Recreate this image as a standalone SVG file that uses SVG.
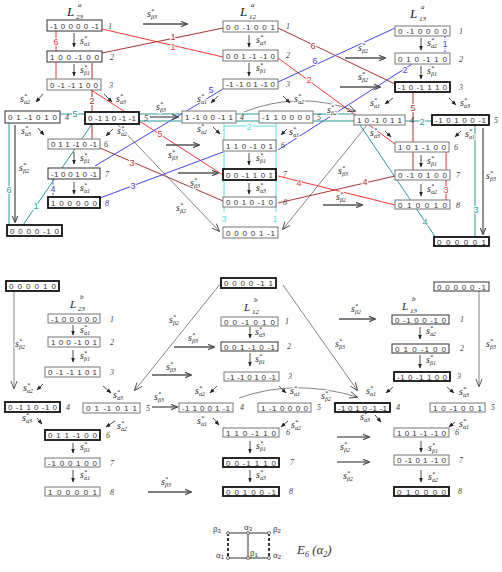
<svg xmlns="http://www.w3.org/2000/svg" width="502" height="572" viewBox="0 0 502 572">
<style>
.bx{fill:#fff;stroke:#777;stroke-width:1}
.bd{fill:#fff;stroke:#333;stroke-width:1}
.bk{fill:#fff;stroke:#111;stroke-width:1.8}
.bt{font-family:"Liberation Sans",Arial,sans-serif;font-size:8px;fill:#333}
.ix{font-family:"Liberation Serif",serif;font-style:italic;font-size:8px;fill:#444}
.lb{font-family:"Liberation Serif",serif;font-style:italic;font-size:10px;fill:#222;paint-order:stroke;stroke:#fff;stroke-width:2px}
.u{font-size:6px}
.tt{font-family:"Liberation Serif",serif;font-style:italic;font-size:13px;fill:#222}
.tb{font-family:"Liberation Serif",serif;font-style:italic;font-size:11px;fill:#222}
.ts{font-family:"Liberation Serif",serif;font-style:italic;font-size:7px;fill:#222}
.cl{font-family:"Liberation Sans",Arial,sans-serif;font-size:9px;text-anchor:middle;paint-order:stroke;stroke:#fff;stroke-width:2px}
.sa{fill:none;stroke:#222;stroke-width:0.8;marker-end:url(#ah)}
.la{fill:none;stroke:#555;stroke-width:1.3;marker-end:url(#oh)}
.th{fill:none;stroke:#333;stroke-width:0.6;marker-end:url(#oh2)}
</style>
<defs>
<marker id="ah" viewBox="0 0 10 10" refX="9" refY="5" markerUnits="userSpaceOnUse" markerWidth="5" markerHeight="5" orient="auto"><path d="M0,1 L10,5 L0,9 z" fill="#222"/></marker>
<marker id="oh" viewBox="0 0 10 10" refX="9" refY="5" markerUnits="userSpaceOnUse" markerWidth="7" markerHeight="7" orient="auto"><path d="M0,1 L10,5 L0,9" fill="none" stroke="#444" stroke-width="1.5"/></marker>
<marker id="oh2" viewBox="0 0 10 10" refX="9" refY="5" markerUnits="userSpaceOnUse" markerWidth="8" markerHeight="8" orient="auto"><path d="M0,1 L10,5 L0,9" fill="none" stroke="#333" stroke-width="1"/></marker>
</defs>
<rect width="502" height="572" fill="#fff"/>

<g id="connectors">
<g fill="none" stroke-width="1">
<path stroke="#f33" d="M102,29 L223,57 M278,58 L395,144 M446,152 V200 M395,205 L278,176 M223,175 L88,88 M56,31 V79"/>
<path stroke="#a33" d="M102,53 L223,28 M278,28 L395,84 M413,92 V170 M395,176 L278,203 M223,201 L100,148 M92,63 V139"/>
<path stroke="#44e" d="M412,64 L278,150 M223,152 L100,198 M95,166 L223,89 M278,82 L395,28"/>
<path stroke="#44e" stroke-dasharray="2,1.5" d="M445,36 V53 M53,179 V197"/>
<path stroke="#2a9a9a" d="M23,225 L92,124 M139,121 H432 M475,125 V237 M436,238 L360,125 M354,114 H60 M9,123 V225"/>
<path stroke="#5ee0e0" d="M224,123 V212 M276,123 V212 M224,126 H276"/>
</g>
<g>
<text class="cl" fill="#f33" x="173" y="50">1</text><text class="cl" fill="#f33" x="309" y="83">2</text><text class="cl" fill="#f33" x="446" y="193">3</text><text class="cl" fill="#f33" x="299" y="186">4</text><text class="cl" fill="#f33" x="160" y="137">5</text><text class="cl" fill="#f33" x="56" y="45">6</text>
<text class="cl" fill="#a33" x="173" y="40">1</text><text class="cl" fill="#a33" x="313" y="49">6</text><text class="cl" fill="#a33" x="413" y="111">5</text><text class="cl" fill="#a33" x="365" y="185">4</text><text class="cl" fill="#a33" x="132" y="166">3</text><text class="cl" fill="#a33" x="92" y="104">2</text>
<text class="cl" fill="#44e" x="445" y="47">1</text><text class="cl" fill="#44e" x="405" y="73">2</text><text class="cl" fill="#44e" x="133" y="189">3</text><text class="cl" fill="#44e" x="53" y="192">4</text><text class="cl" fill="#44e" x="211" y="93">5</text><text class="cl" fill="#44e" x="315" y="64">6</text>
<text class="cl" fill="#2a9a9a" x="36" y="209">1</text><text class="cl" fill="#2a9a9a" x="422" y="125">2</text><text class="cl" fill="#2a9a9a" x="476" y="213">3</text><text class="cl" fill="#2a9a9a" x="425" y="225">4</text><text class="cl" fill="#2a9a9a" x="75" y="117">5</text><text class="cl" fill="#2a9a9a" x="9" y="193">6</text>
<text class="cl" fill="#5ee0e0" x="249" y="130">2</text><text class="cl" fill="#5ee0e0" x="224" y="222">3</text><text class="cl" fill="#5ee0e0" x="275" y="222">1</text>
</g>

<path class="sa" d="M74,33 V47"/><path class="sa" d="M74,64 V76"/><path class="sa" d="M43,94 L36,102"/><path class="sa" d="M104,94 L112,102"/><path class="sa" d="M38,128 L44,135"/><path class="sa" d="M113,129 L106,136"/><path class="sa" d="M74,152 V164"/><path class="sa" d="M74,182 V194"/>
<path class="sa" d="M249,35 V47"/><path class="sa" d="M249,63 V76"/><path class="sa" d="M218,96 L211,103"/><path class="sa" d="M283,96 L290,103"/><path class="sa" d="M213,127 L220,134"/><path class="sa" d="M287,129 L281,135"/><path class="sa" d="M249,153 V165"/><path class="sa" d="M249,183 V194"/>
<path class="sa" d="M421,38 V50"/><path class="sa" d="M421,66 V79"/><path class="sa" d="M393,98 L385,104"/><path class="sa" d="M449,98 L456,105"/><path class="sa" d="M385,131 L391,137"/><path class="sa" d="M461,131 L455,137"/><path class="sa" d="M421,155 V167"/><path class="sa" d="M421,184 V196"/>
<path class="la" d="M143,24 H187"/><path class="la" d="M345,58 H385"/><path class="la" d="M340,87 H380"/><path class="la" d="M150,117 H178"/><path class="la" d="M166,145 H199"/><path class="la" d="M178,173 H218"/><path class="la" d="M323,205 H362"/>
<path class="la" d="M15,125 V222"/><path class="la" d="M483,128 V234"/>
<path class="th" d="M118,125 L219,231"/><path class="th" d="M367,125 L283,229"/>
<path class="th" d="M244,112 Q300,90 355,111"/>

<path class="sa" d="M73,325 V335"/><path class="sa" d="M73,350 V362"/><path class="sa" d="M43,384 L37,390"/><path class="sa" d="M103,386 L111,393"/><path class="sa" d="M37,418 L42,424"/><path class="sa" d="M115,421 L106,427"/><path class="sa" d="M73,443 V453"/><path class="sa" d="M73,470 V482"/>
<path class="sa" d="M250,327 V338"/><path class="sa" d="M250,353 V366"/><path class="sa" d="M217,386 L210,393"/><path class="sa" d="M279,386 L286,393"/><path class="sa" d="M213,418 L219,425"/><path class="sa" d="M288,421 L281,427"/><path class="sa" d="M250,441 V453"/><path class="sa" d="M250,470 V482"/>
<path class="sa" d="M420,327 V339"/><path class="sa" d="M420,355 V368"/><path class="sa" d="M393,387 L386,393"/><path class="sa" d="M447,387 L454,393"/><path class="sa" d="M375,415 L381,422"/><path class="sa" d="M455,422 L449,427"/><path class="sa" d="M421,441 V452"/><path class="sa" d="M421,470 V482"/>
<path class="la" d="M174,347 H214"/><path class="la" d="M152,375 H191"/><path class="la" d="M152,407 H177"/><path class="la" d="M148,492 H191"/><path class="la" d="M339,319 H375"/><path class="la" d="M337,437 H369"/><path class="la" d="M337,462 H369"/>
<path class="th" d="M14,291 V388"/><path class="th" d="M479,291 V386"/>
<path class="th" d="M221,283 L135,390"/><path class="th" d="M283,285 L357,390"/>
<path class="th" d="M239,398 Q295,378 357,397"/>

<g>
<text class="lb" x="80" y="44">s<tspan class="u" dy="-4">*</tspan><tspan class="u" dx="-3" dy="6">α1</tspan></text>
<text class="lb" x="80" y="73">s<tspan class="u" dy="-4">*</tspan><tspan class="u" dx="-3" dy="6">β1</tspan></text>
<text class="lb" x="20" y="102">s<tspan class="u" dy="-4">*</tspan><tspan class="u" dx="-3" dy="6">α2</tspan></text>
<text class="lb" x="116" y="102">s<tspan class="u" dy="-4">*</tspan><tspan class="u" dx="-3" dy="6">α3</tspan></text>
<text class="lb" x="21" y="134">s<tspan class="u" dy="-4">*</tspan><tspan class="u" dx="-3" dy="6">α3</tspan></text>
<text class="lb" x="117" y="134">s<tspan class="u" dy="-4">*</tspan><tspan class="u" dx="-3" dy="6">α2</tspan></text>
<text class="lb" x="80" y="161">s<tspan class="u" dy="-4">*</tspan><tspan class="u" dx="-3" dy="6">β1</tspan></text>
<text class="lb" x="80" y="191">s<tspan class="u" dy="-4">*</tspan><tspan class="u" dx="-3" dy="6">α1</tspan></text>
<text class="lb" x="256" y="43">s<tspan class="u" dy="-4">*</tspan><tspan class="u" dx="-3" dy="6">α3</tspan></text>
<text class="lb" x="256" y="71">s<tspan class="u" dy="-4">*</tspan><tspan class="u" dx="-3" dy="6">β1</tspan></text>
<text class="lb" x="197" y="102">s<tspan class="u" dy="-4">*</tspan><tspan class="u" dx="-3" dy="6">α1</tspan></text>
<text class="lb" x="294" y="102">s<tspan class="u" dy="-4">*</tspan><tspan class="u" dx="-3" dy="6">α2</tspan></text>
<text class="lb" x="197" y="132">s<tspan class="u" dy="-4">*</tspan><tspan class="u" dx="-3" dy="6">α2</tspan></text>
<text class="lb" x="289" y="135">s<tspan class="u" dy="-4">*</tspan><tspan class="u" dx="-3" dy="6">α1</tspan></text>
<text class="lb" x="256" y="161">s<tspan class="u" dy="-4">*</tspan><tspan class="u" dx="-3" dy="6">β1</tspan></text>
<text class="lb" x="256" y="191">s<tspan class="u" dy="-4">*</tspan><tspan class="u" dx="-3" dy="6">α3</tspan></text>
<text class="lb" x="427" y="46">s<tspan class="u" dy="-4">*</tspan><tspan class="u" dx="-3" dy="6">α2</tspan></text>
<text class="lb" x="427" y="74">s<tspan class="u" dy="-4">*</tspan><tspan class="u" dx="-3" dy="6">β1</tspan></text>
<text class="lb" x="370" y="106">s<tspan class="u" dy="-4">*</tspan><tspan class="u" dx="-3" dy="6">α1</tspan></text>
<text class="lb" x="460" y="106">s<tspan class="u" dy="-4">*</tspan><tspan class="u" dx="-3" dy="6">α3</tspan></text>
<text class="lb" x="370" y="136">s<tspan class="u" dy="-4">*</tspan><tspan class="u" dx="-3" dy="6">α3</tspan></text>
<text class="lb" x="465" y="137">s<tspan class="u" dy="-4">*</tspan><tspan class="u" dx="-3" dy="6">α1</tspan></text>
<text class="lb" x="427" y="164">s<tspan class="u" dy="-4">*</tspan><tspan class="u" dx="-3" dy="6">β1</tspan></text>
<text class="lb" x="427" y="192">s<tspan class="u" dy="-4">*</tspan><tspan class="u" dx="-3" dy="6">α2</tspan></text>
<text class="lb" x="147" y="17">s<tspan class="u" dy="-4">*</tspan><tspan class="u" dx="-3" dy="6">β3</tspan></text>
<text class="lb" x="358" y="51">s<tspan class="u" dy="-4">*</tspan><tspan class="u" dx="-3" dy="6">β2</tspan></text>
<text class="lb" x="358" y="80">s<tspan class="u" dy="-4">*</tspan><tspan class="u" dx="-3" dy="6">β2</tspan></text>
<text class="lb" x="156" y="110">s<tspan class="u" dy="-4">*</tspan><tspan class="u" dx="-3" dy="6">β3</tspan></text>
<text class="lb" x="168" y="158">s<tspan class="u" dy="-4">*</tspan><tspan class="u" dx="-3" dy="6">β3</tspan></text>
<text class="lb" x="190" y="186">s<tspan class="u" dy="-4">*</tspan><tspan class="u" dx="-3" dy="6">β3</tspan></text>
<text class="lb" x="176" y="211">s<tspan class="u" dy="-4">*</tspan><tspan class="u" dx="-3" dy="6">β2</tspan></text>
<text class="lb" x="338" y="174">s<tspan class="u" dy="-4">*</tspan><tspan class="u" dx="-3" dy="6">β3</tspan></text>
<text class="lb" x="336" y="200">s<tspan class="u" dy="-4">*</tspan><tspan class="u" dx="-3" dy="6">β2</tspan></text>
<text class="lb" x="19" y="171">s<tspan class="u" dy="-4">*</tspan><tspan class="u" dx="-3" dy="6">β2</tspan></text>
<text class="lb" x="486" y="179">s<tspan class="u" dy="-4">*</tspan><tspan class="u" dx="-3" dy="6">β3</tspan></text>
<text class="lb" x="327" y="113">s<tspan class="u" dy="-4">*</tspan><tspan class="u" dx="-3" dy="6">β2</tspan></text>

<text class="lb" x="80" y="333">s<tspan class="u" dy="-4">*</tspan><tspan class="u" dx="-3" dy="6">α1</tspan></text>
<text class="lb" x="80" y="359">s<tspan class="u" dy="-4">*</tspan><tspan class="u" dx="-3" dy="6">β1</tspan></text>
<text class="lb" x="23" y="391">s<tspan class="u" dy="-4">*</tspan><tspan class="u" dx="-3" dy="6">α2</tspan></text>
<text class="lb" x="113" y="398">s<tspan class="u" dy="-4">*</tspan><tspan class="u" dx="-3" dy="6">α3</tspan></text>
<text class="lb" x="22" y="421">s<tspan class="u" dy="-4">*</tspan><tspan class="u" dx="-3" dy="6">α3</tspan></text>
<text class="lb" x="117" y="429">s<tspan class="u" dy="-4">*</tspan><tspan class="u" dx="-3" dy="6">α2</tspan></text>
<text class="lb" x="80" y="450">s<tspan class="u" dy="-4">*</tspan><tspan class="u" dx="-3" dy="6">β1</tspan></text>
<text class="lb" x="80" y="478">s<tspan class="u" dy="-4">*</tspan><tspan class="u" dx="-3" dy="6">α1</tspan></text>
<text class="lb" x="255" y="335">s<tspan class="u" dy="-4">*</tspan><tspan class="u" dx="-3" dy="6">α3</tspan></text>
<text class="lb" x="255" y="362">s<tspan class="u" dy="-4">*</tspan><tspan class="u" dx="-3" dy="6">β1</tspan></text>
<text class="lb" x="195" y="394">s<tspan class="u" dy="-4">*</tspan><tspan class="u" dx="-3" dy="6">α2</tspan></text>
<text class="lb" x="290" y="394">s<tspan class="u" dy="-4">*</tspan><tspan class="u" dx="-3" dy="6">α1</tspan></text>
<text class="lb" x="197" y="424">s<tspan class="u" dy="-4">*</tspan><tspan class="u" dx="-3" dy="6">α1</tspan></text>
<text class="lb" x="291" y="428">s<tspan class="u" dy="-4">*</tspan><tspan class="u" dx="-3" dy="6">α2</tspan></text>
<text class="lb" x="256" y="449">s<tspan class="u" dy="-4">*</tspan><tspan class="u" dx="-3" dy="6">β1</tspan></text>
<text class="lb" x="256" y="478">s<tspan class="u" dy="-4">*</tspan><tspan class="u" dx="-3" dy="6">α3</tspan></text>
<text class="lb" x="426" y="334">s<tspan class="u" dy="-4">*</tspan><tspan class="u" dx="-3" dy="6">α2</tspan></text>
<text class="lb" x="426" y="363">s<tspan class="u" dy="-4">*</tspan><tspan class="u" dx="-3" dy="6">β1</tspan></text>
<text class="lb" x="366" y="394">s<tspan class="u" dy="-4">*</tspan><tspan class="u" dx="-3" dy="6">α1</tspan></text>
<text class="lb" x="459" y="395">s<tspan class="u" dy="-4">*</tspan><tspan class="u" dx="-3" dy="6">α3</tspan></text>
<text class="lb" x="360" y="420">s<tspan class="u" dy="-4">*</tspan><tspan class="u" dx="-3" dy="6">α3</tspan></text>
<text class="lb" x="459" y="427">s<tspan class="u" dy="-4">*</tspan><tspan class="u" dx="-3" dy="6">α1</tspan></text>
<text class="lb" x="428" y="451">s<tspan class="u" dy="-4">*</tspan><tspan class="u" dx="-3" dy="6">β1</tspan></text>
<text class="lb" x="428" y="480">s<tspan class="u" dy="-4">*</tspan><tspan class="u" dx="-3" dy="6">α2</tspan></text>
<text class="lb" x="169" y="323">s<tspan class="u" dy="-4">*</tspan><tspan class="u" dx="-3" dy="6">β2</tspan></text>
<text class="lb" x="188" y="341">s<tspan class="u" dy="-4">*</tspan><tspan class="u" dx="-3" dy="6">β3</tspan></text>
<text class="lb" x="166" y="370">s<tspan class="u" dy="-4">*</tspan><tspan class="u" dx="-3" dy="6">β3</tspan></text>
<text class="lb" x="154" y="400">s<tspan class="u" dy="-4">*</tspan><tspan class="u" dx="-3" dy="6">β3</tspan></text>
<text class="lb" x="161" y="485">s<tspan class="u" dy="-4">*</tspan><tspan class="u" dx="-3" dy="6">β3</tspan></text>
<text class="lb" x="351" y="312">s<tspan class="u" dy="-4">*</tspan><tspan class="u" dx="-3" dy="6">β2</tspan></text>
<text class="lb" x="340" y="450">s<tspan class="u" dy="-4">*</tspan><tspan class="u" dx="-3" dy="6">β2</tspan></text>
<text class="lb" x="343" y="479">s<tspan class="u" dy="-4">*</tspan><tspan class="u" dx="-3" dy="6">β2</tspan></text>
<text class="lb" x="335" y="347">s<tspan class="u" dy="-4">*</tspan><tspan class="u" dx="-3" dy="6">β3</tspan></text>
<text class="lb" x="321" y="399">s<tspan class="u" dy="-4">*</tspan><tspan class="u" dx="-3" dy="6">β2</tspan></text>
<text class="lb" x="15" y="347">s<tspan class="u" dy="-4">*</tspan><tspan class="u" dx="-3" dy="6">β2</tspan></text>
<text class="lb" x="486" y="347">s<tspan class="u" dy="-4">*</tspan><tspan class="u" dx="-3" dy="6">β3</tspan></text>
</g>
</g>

<g id="titles">
<text class="tt" x="67" y="16">L</text><text class="ts" x="78" y="7">a</text><text class="ts" x="76" y="19">23</text>
<text class="tt" x="240" y="16">L</text><text class="ts" x="251" y="7">a</text><text class="ts" x="249" y="19">12</text>
<text class="tt" x="410" y="18">L</text><text class="ts" x="421" y="9">a</text><text class="ts" x="419" y="21">13</text>
<text class="tb" x="70" y="308">L</text><text class="ts" x="80" y="299">b</text><text class="ts" x="78" y="311">23</text>
<text class="tb" x="244" y="311">L</text><text class="ts" x="254" y="302">b</text><text class="ts" x="252" y="314">12</text>
<text class="tb" x="402" y="310">L</text><text class="ts" x="412" y="301">b</text><text class="ts" x="410" y="313">13</text>
</g>

<g id="a23-1"><rect class="bd" x="47" y="20" width="55" height="11"/><text class="bt" x="50" y="28.5" textLength="49">-1 0 0 0 0 -1</text><text class="ix" x="108" y="29">1</text></g>
<g id="a23-2"><rect class="bd" x="47" y="51" width="55" height="11"/><text class="bt" x="50" y="59.5" textLength="49">1 0 0 -1 0 0</text><text class="ix" x="110" y="60">2</text></g>
<g id="a23-3"><rect class="bx" x="47" y="79" width="54" height="11"/><text class="bt" x="50" y="87.5" textLength="48">0 -1 -1 1 0 0</text><text class="ix" x="109" y="88">3</text></g>
<g id="a23-4"><rect class="bd" x="5" y="111" width="55" height="12"/><text class="bt" x="8" y="120" textLength="49">0 1 -1 0 1 0</text><text class="ix" x="65" y="120">4</text></g>
<g id="a23-5"><rect class="bk" x="85" y="112" width="54" height="12"/><text class="bt" x="88" y="121" textLength="48">0 -1 1 0 -1 -1</text><text class="ix" x="144" y="121">5</text></g>
<g id="a23-6"><rect class="bx" x="48" y="139" width="52" height="10"/><text class="bt" x="51" y="147" textLength="46">0 1 1 -1 0 -1</text><text class="ix" x="104" y="147">6</text></g>
<g id="a23-7"><rect class="bd" x="48" y="168" width="52" height="11"/><text class="bt" x="51" y="176.5" textLength="46">-1 0 0 1 0 -1</text><text class="ix" x="105" y="177">7</text></g>
<g id="a23-8"><rect class="bk" x="48" y="197" width="52" height="11"/><text class="bt" x="51" y="205.5" textLength="46">1 0 0 0 0 0</text><text class="ix" x="105" y="206">8</text></g>
<g id="a23-x"><rect class="bk" x="7" y="225" width="55" height="11"/><text class="bt" x="10" y="233.5" textLength="49">0 0 0 0 -1 0</text></g>

<g id="a12-1"><rect class="bx" x="223" y="21" width="55" height="11"/><text class="bt" x="226" y="29.5" textLength="49">0 0 -1 0 0 1</text><text class="ix" x="286" y="29">1</text></g>
<g id="a12-2"><rect class="bx" x="223" y="50" width="55" height="11"/><text class="bt" x="226" y="58.5" textLength="49">0 0 1 -1 -1 0</text><text class="ix" x="286" y="58">2</text></g>
<g id="a12-3"><rect class="bx" x="223" y="79" width="55" height="10"/><text class="bt" x="226" y="87" textLength="49">-1 -1 0 1 -1 0</text><text class="ix" x="286" y="87">3</text></g>
<g id="a12-4"><rect class="bx" x="182" y="111" width="54" height="12"/><text class="bt" x="185" y="120" textLength="48">1 -1 0 0 -1 1</text><text class="ix" x="240" y="120">4</text></g>
<g id="a12-5"><rect class="bx" x="259" y="111" width="54" height="12"/><text class="bt" x="262" y="120" textLength="48">-1 1 0 0 0 0</text><text class="ix" x="317" y="120">5</text></g>
<g id="a12-6"><rect class="bx" x="223" y="140" width="53" height="11"/><text class="bt" x="226" y="148.5" textLength="47">1 1 0 -1 0 1</text><text class="ix" x="281" y="148">6</text></g>
<g id="a12-7"><rect class="bk" x="223" y="169" width="53" height="11"/><text class="bt" x="226" y="177.5" textLength="47">0 0 -1 1 0 1</text><text class="ix" x="283" y="177">7</text></g>
<g id="a12-8"><rect class="bx" x="223" y="197" width="53" height="10"/><text class="bt" x="226" y="205" textLength="47">0 0 1 0 -1 0</text><text class="ix" x="283" y="205">8</text></g>
<g id="a12-x"><rect class="bx" x="223" y="227" width="55" height="11"/><text class="bt" x="226" y="235.5" textLength="49">0 0 0 0 1 -1</text></g>

<g id="a13-1"><rect class="bx" x="395" y="26" width="55" height="10"/><text class="bt" x="398" y="34" textLength="49">0 -1 0 0 0 0</text><text class="ix" x="459" y="34">1</text></g>
<g id="a13-2"><rect class="bx" x="395" y="53" width="55" height="11"/><text class="bt" x="398" y="61.5" textLength="49">0 1 0 -1 1 0</text><text class="ix" x="459" y="62">2</text></g>
<g id="a13-3"><rect class="bk" x="395" y="82" width="55" height="10"/><text class="bt" x="398" y="90" textLength="49">-1 0 -1 1 1 0</text><text class="ix" x="459" y="90">3</text></g>
<g id="a13-4"><rect class="bx" x="354" y="115" width="51" height="10"/><text class="bt" x="357" y="123" textLength="45">1 0 -1 0 1 1</text><text class="ix" x="410" y="123">4</text></g>
<g id="a13-5"><rect class="bk" x="432" y="115" width="57" height="10"/><text class="bt" x="435" y="123" textLength="51">-1 0 1 0 0 -1</text><text class="ix" x="494" y="123">5</text></g>
<g id="a13-6"><rect class="bx" x="395" y="142" width="54" height="10"/><text class="bt" x="398" y="150" textLength="48">1 0 1 -1 0 0</text><text class="ix" x="454" y="150">6</text></g>
<g id="a13-7"><rect class="bx" x="395" y="170" width="55" height="10"/><text class="bt" x="398" y="178" textLength="49">0 -1 0 1 0 0</text><text class="ix" x="456" y="178">7</text></g>
<g id="a13-8"><rect class="bx" x="395" y="200" width="55" height="9"/><text class="bt" x="398" y="207.5" textLength="49">0 1 0 0 1 0</text><text class="ix" x="456" y="208">8</text></g>
<g id="a13-x"><rect class="bk" x="434" y="237" width="55" height="9"/><text class="bt" x="437" y="244.5" textLength="49">0 0 0 0 0 1</text></g>

<g id="b23-x"><rect class="bk" x="6" y="281" width="53" height="10"/><text class="bt" x="9" y="289" textLength="47">0 0 0 0 1 0</text></g>
<g id="b23-1"><rect class="bx" x="48" y="314" width="52" height="9"/><text class="bt" x="51" y="321.5" textLength="46">-1 0 0 0 0 0</text><text class="ix" x="110" y="322">1</text></g>
<g id="b23-2"><rect class="bx" x="48" y="337" width="52" height="10"/><text class="bt" x="51" y="345" textLength="46">1 0 0 -1 0 1</text><text class="ix" x="110" y="345">2</text></g>
<g id="b23-3"><rect class="bx" x="45" y="367" width="55" height="10"/><text class="bt" x="48" y="375" textLength="49">0 -1 -1 1 0 1</text><text class="ix" x="110" y="375">3</text></g>
<g id="b23-4"><rect class="bk" x="5" y="402" width="55" height="10"/><text class="bt" x="8" y="410" textLength="49">0 -1 1 0 -1 0</text><text class="ix" x="66" y="410">4</text></g>
<g id="b23-5"><rect class="bx" x="83" y="403" width="57" height="10"/><text class="bt" x="86" y="411" textLength="51">0 1 -1 0 1 1</text><text class="ix" x="146" y="411">5</text></g>
<g id="b23-6"><rect class="bk" x="45" y="430" width="55" height="10"/><text class="bt" x="48" y="438" textLength="49">0 1 1 -1 0 0</text><text class="ix" x="106" y="438">6</text></g>
<g id="b23-7"><rect class="bx" x="45" y="458" width="55" height="9"/><text class="bt" x="48" y="465.5" textLength="49">-1 0 0 1 0 0</text><text class="ix" x="110" y="466">7</text></g>
<g id="b23-8"><rect class="bx" x="45" y="487" width="55" height="9"/><text class="bt" x="48" y="494.5" textLength="49">1 0 0 0 0 1</text><text class="ix" x="110" y="495">8</text></g>

<g id="b12-x"><rect class="bk" x="221" y="278" width="55" height="10"/><text class="bt" x="224" y="286" textLength="49">0 0 0 0 -1 1</text></g>
<g id="b12-1"><rect class="bx" x="221" y="317" width="57" height="9"/><text class="bt" x="224" y="324.5" textLength="51">0 0 -1 0 1 0</text><text class="ix" x="285" y="324">1</text></g>
<g id="b12-2"><rect class="bd" x="221" y="342" width="57" height="9"/><text class="bt" x="224" y="349.5" textLength="51">0 0 1 -1 0 -1</text><text class="ix" x="287" y="349">2</text></g>
<g id="b12-3"><rect class="bx" x="224" y="372" width="55" height="9"/><text class="bt" x="227" y="379.5" textLength="49">-1 -1 0 1 0 -1</text><text class="ix" x="288" y="379">3</text></g>
<g id="b12-4"><rect class="bx" x="179" y="403" width="54" height="9"/><text class="bt" x="182" y="410.5" textLength="48">-1 1 0 0 1 -1</text><text class="ix" x="240" y="410">4</text></g>
<g id="b12-5"><rect class="bx" x="258" y="403" width="53" height="9"/><text class="bt" x="261" y="410.5" textLength="47">1 -1 0 0 0 0</text><text class="ix" x="317" y="410">5</text></g>
<g id="b12-6"><rect class="bx" x="223" y="428" width="56" height="9"/><text class="bt" x="226" y="435.5" textLength="50">1 1 0 -1 1 0</text><text class="ix" x="286" y="435">6</text></g>
<g id="b12-7"><rect class="bk" x="223" y="458" width="56" height="9"/><text class="bt" x="226" y="465.5" textLength="50">0 0 -1 1 1 0</text><text class="ix" x="290" y="465">7</text></g>
<g id="b12-8"><rect class="bk" x="223" y="487" width="56" height="9"/><text class="bt" x="226" y="494.5" textLength="50">0 0 1 0 0 -1</text><text class="ix" x="289" y="494">8</text></g>

<g id="b13-x"><rect class="bd" x="434" y="282" width="55" height="9"/><text class="bt" x="437" y="289.5" textLength="49">0 0 0 0 0 -1</text></g>
<g id="b13-1"><rect class="bd" x="392" y="315" width="57" height="9"/><text class="bt" x="395" y="322.5" textLength="51">0 -1 0 0 -1 0</text><text class="ix" x="460" y="322">1</text></g>
<g id="b13-2"><rect class="bd" x="392" y="344" width="57" height="9"/><text class="bt" x="395" y="351.5" textLength="51">0 1 0 -1 0 0</text><text class="ix" x="460" y="351">2</text></g>
<g id="b13-3"><rect class="bk" x="394" y="372" width="56" height="9"/><text class="bt" x="397" y="379.5" textLength="50">-1 0 -1 1 0 0</text><text class="ix" x="457" y="379">3</text></g>
<g id="b13-4"><rect class="bk" x="335" y="403" width="55" height="9"/><text class="bt" x="338" y="410.5" textLength="49">-1 0 1 0 -1 -1</text><text class="ix" x="396" y="410">4</text></g>
<g id="b13-5"><rect class="bx" x="430" y="403" width="55" height="9"/><text class="bt" x="433" y="410.5" textLength="49">1 0 -1 0 0 1</text><text class="ix" x="491" y="410">5</text></g>
<g id="b13-6"><rect class="bx" x="394" y="428" width="55" height="9"/><text class="bt" x="397" y="435.5" textLength="49">1 0 1 -1 -1 0</text><text class="ix" x="455" y="435">6</text></g>
<g id="b13-7"><rect class="bx" x="394" y="455" width="55" height="10"/><text class="bt" x="397" y="463" textLength="49">0 -1 0 1 -1 0</text><text class="ix" x="459" y="463">7</text></g>
<g id="b13-8"><rect class="bk" x="394" y="487" width="55" height="9"/><text class="bt" x="397" y="494.5" textLength="49">0 1 0 0 0 0</text><text class="ix" x="458" y="494">8</text></g>

<g id="e6">
<path d="M228,533 H269 M228,558 H269 M248,533 V558" stroke="#333" stroke-width="1" fill="none"/>
<path d="M228,533 V558 M269,533 V558" stroke="#222" stroke-width="1.8" stroke-dasharray="3,2" fill="none"/>
<g fill="#fff" stroke="#333" stroke-width="0.7"><circle cx="228" cy="533" r="1.5"/><circle cx="248" cy="533" r="1.5"/><circle cx="269" cy="533" r="1.5"/><circle cx="228" cy="558" r="1.5"/><circle cx="248" cy="558" r="1.5"/><circle cx="269" cy="558" r="1.5"/></g>
<g font-family="Liberation Sans, Arial, sans-serif" font-size="8" fill="#333">
<text x="213" y="532">β<tspan font-size="6" dy="1">3</tspan></text>
<text x="244" y="530">α<tspan font-size="6" dy="1">3</tspan></text>
<text x="273" y="532">β<tspan font-size="6" dy="1">2</tspan></text>
<text x="216" y="558">α<tspan font-size="6" dy="1">1</tspan></text>
<text x="250" y="556">β<tspan font-size="6" dy="1">1</tspan></text>
<text x="273" y="558">α<tspan font-size="6" dy="1">2</tspan></text>
</g>
<text x="297" y="554" font-family="Liberation Serif, serif" font-style="italic" font-size="13" fill="#333">E<tspan font-size="8" dy="3">6</tspan><tspan dy="-3"> (α</tspan><tspan font-size="8" dy="3">2</tspan><tspan dy="-3">)</tspan></text>
</g>
</svg>
